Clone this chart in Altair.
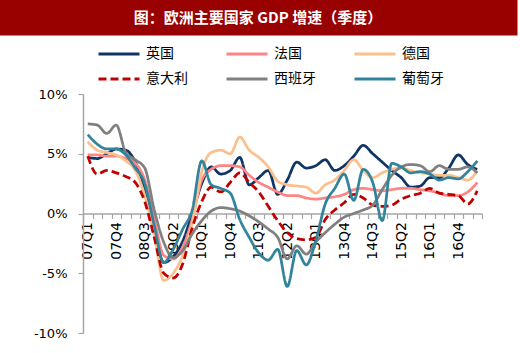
import json
import altair as alt
import pandas as pd

title_text = "图：欧洲主要国家 GDP 增速（季度）"

quarters = ["07Q1", "07Q2", "07Q3", "07Q4", "08Q1", "08Q2", "08Q3", "08Q4",
            "09Q1", "09Q2", "09Q3", "09Q4", "10Q1", "10Q2", "10Q3", "10Q4",
            "11Q1", "11Q2", "11Q3", "11Q4", "12Q1", "12Q2", "12Q3", "12Q4",
            "13Q1", "13Q2", "13Q3", "13Q4", "14Q1", "14Q2", "14Q3", "14Q4",
            "15Q1", "15Q2", "15Q3", "15Q4", "16Q1", "16Q2", "16Q3", "16Q4",
            "17Q1", "17Q2"]

tick_labels = ["07Q1", "07Q4", "08Q3", "09Q2", "10Q1", "10Q4", "11Q3",
               "12Q2", "13Q1", "13Q4", "14Q3", "15Q2", "16Q1", "16Q4"]

countries = ["英国", "法国", "德国", "意大利", "西班牙", "葡萄牙"]

uk = [4.7, 4.6, 5.0, 5.4, 5.3, 4.3, 2.0, -1.5, -4.1, -3.6, -2.3, 0.0, 2.5, 3.9,
      3.3, 3.6, 4.7, 2.4, 3.0, 3.6, 1.6, 2.8, 4.3, 3.8, 4.0, 4.5, 3.6, 4.0,
      4.8, 5.7, 5.0, 4.3, 3.6, 3.0, 2.2, 2.3, 3.0, 3.0, 3.8, 4.9, 4.1, 3.7]
france = [4.9, 4.9, 4.8, 4.8, 4.6, 4.2, 2.8, -0.5, -3.5, -3.8, -2.8, -0.5, 2.8, 3.7,
          4.0, 4.0, 3.9, 3.2, 2.6, 2.2, 1.8, 1.5, 1.5, 1.3, 1.2, 1.3, 1.4, 1.6,
          2.0, 2.1, 2.0, 1.9, 2.0, 2.1, 2.1, 2.0, 1.9, 1.7, 1.5, 1.5, 1.8, 2.6]
germany = [6.0, 5.3, 5.1, 4.9, 4.4, 3.6, 1.5, -1.8, -5.6, -5.0, -3.5, -0.8, 3.5, 5.1,
           5.3, 5.0, 6.4, 5.3, 4.7, 3.9, 2.7, 2.4, 2.3, 2.2, 1.7, 2.4, 2.8, 3.6,
           4.5, 3.6, 3.0, 3.4, 3.7, 3.8, 3.6, 3.4, 3.3, 3.2, 3.2, 3.0, 2.8, 3.6]
italy = [4.8, 3.3, 3.6, 3.4, 3.1, 2.6, 1.0, -2.0, -5.0, -5.4, -4.2, -1.2, 1.0, 2.2,
         1.8, 2.6, 3.4, 2.6, 1.8, 0.6, -0.6, -1.6, -2.1, -2.2, -2.0, -0.5, 0.3, 0.9,
         1.6, 1.3, 0.7, 0.6, 0.7, 1.2, 1.5, 1.7, 2.1, 1.7, 1.6, 1.5, 0.8, 1.9]
spain = [7.5, 7.4, 6.7, 7.4, 5.1, 4.5, 3.8, 0.3, -2.4, -3.7, -3.1, -1.7, -0.6, 0.2,
         0.5, 0.4, 0.2, -0.2, -0.7, -1.3, -2.0, -3.8, -2.7, -3.4, -2.4, -1.6, -0.9, -0.3,
         0.0, 0.3, 0.7, 2.0, 3.2, 3.9, 4.1, 4.0, 3.5, 4.0, 3.7, 3.7, 3.9, 3.4]
portugal = [6.6, 5.8, 5.4, 5.4, 4.9, 3.8, 2.5, -1.0, -4.1, -3.0, -1.3, 0.3, 4.4, 2.4,
            2.1, 1.7, -0.5, -2.0, -3.3, -3.9, -3.0, -6.1, -3.1, -4.3, -2.3, 0.8, 2.1, 3.3,
            1.1, 3.7, 2.6, -0.6, 4.2, 3.9, 3.4, 3.5, 3.3, 2.8, 3.0, 2.9, 3.5, 4.4]

series = [uk, france, germany, italy, spain, portugal]
colors = ["#0F3566", "#FF8585", "#FBC08E", "#C00000", "#808080", "#31849B"]
dashes = [[1, 0], [1, 0], [1, 0], [8, 4], [1, 0], [1, 0]]

rows = []
for name, vals in zip(countries, series):
    for q, v in zip(quarters, vals):
        rows.append({"季度": q, "国家": name, "增速": v})
df = pd.DataFrame(rows)

legend = alt.Legend(
    title=None, orient="none", legendX=14, legendY=-50, direction="horizontal",
    columns=3, symbolType="stroke", symbolSize=1681, symbolStrokeWidth=3,
    clipHeight=20, rowPadding=5, columnPadding=37, padding=0,
    labelFont="Noto Sans CJK SC", labelFontSize=14, labelColor="black",
    labelOffset=5, labelLimit=0,
)

label_expr = "indexof(" + json.dumps(tick_labels, ensure_ascii=False) + ", datum.value) >= 0 ? datum.value : ''"

lines = alt.Chart(df).mark_line(
    strokeWidth=2.75, interpolate="monotone", strokeJoin="round"
).encode(
    x=alt.X("季度:N", sort=quarters,
            scale=alt.Scale(type="band", paddingInner=0, paddingOuter=0),
            axis=alt.Axis(title=None, orient="bottom", offset=-119.5, labelAngle=270,
                          labelExpr=label_expr, labelOverlap=False, tickBand="extent",
                          tickSize=5, tickColor="#A6A6A6", domainColor="#A6A6A6",
                          domainWidth=1.5, tickWidth=1.2, labelFont="DejaVu Sans",
                          labelFontSize=14, labelColor="black", labelPadding=3, grid=False)),
    y=alt.Y("增速:Q", scale=alt.Scale(domain=[-10, 10], nice=False, zero=False),
            axis=alt.Axis(title=None, values=[-10, -5, 0, 5, 10], labelExpr="datum.value + '%'",
                          tickSize=5, tickColor="#A6A6A6", domainColor="#A6A6A6",
                          domainWidth=1.5, tickWidth=1.2, labelFont="DejaVu Sans",
                          labelFontSize=13, labelColor="black", labelPadding=11, grid=False)),
    color=alt.Color("国家:N", sort=countries,
                    scale=alt.Scale(domain=countries, range=colors), legend=legend),
    strokeDash=alt.StrokeDash("国家:N", sort=countries,
                              scale=alt.Scale(domain=countries, range=dashes), legend=legend),
    order=alt.value(0),
)

one = alt.Data(values=[{}])
title_bar = alt.Chart(one).mark_rect(color="#990000").encode(
    x=alt.value(-83), x2=alt.value(434.5), y=alt.value(-94), y2=alt.value(-58.5)
)
title_label = alt.Chart(one).mark_text(
    text=title_text, color="white", font="Noto Sans CJK SC", fontSize=15,
    fontWeight="bold", align="center", baseline="middle"
).encode(x=alt.value(175), y=alt.value(-76))

chart = alt.layer(title_bar, title_label, lines).properties(
    width=399, height=239,
    padding={"left": 83, "top": 94, "right": 38, "bottom": 20},
    autosize=alt.AutoSizeParams(type="none"),
    background="white",
).configure_view(stroke=None)

chart.save("out.html", embed_options={"renderer": "svg", "actions": False})
